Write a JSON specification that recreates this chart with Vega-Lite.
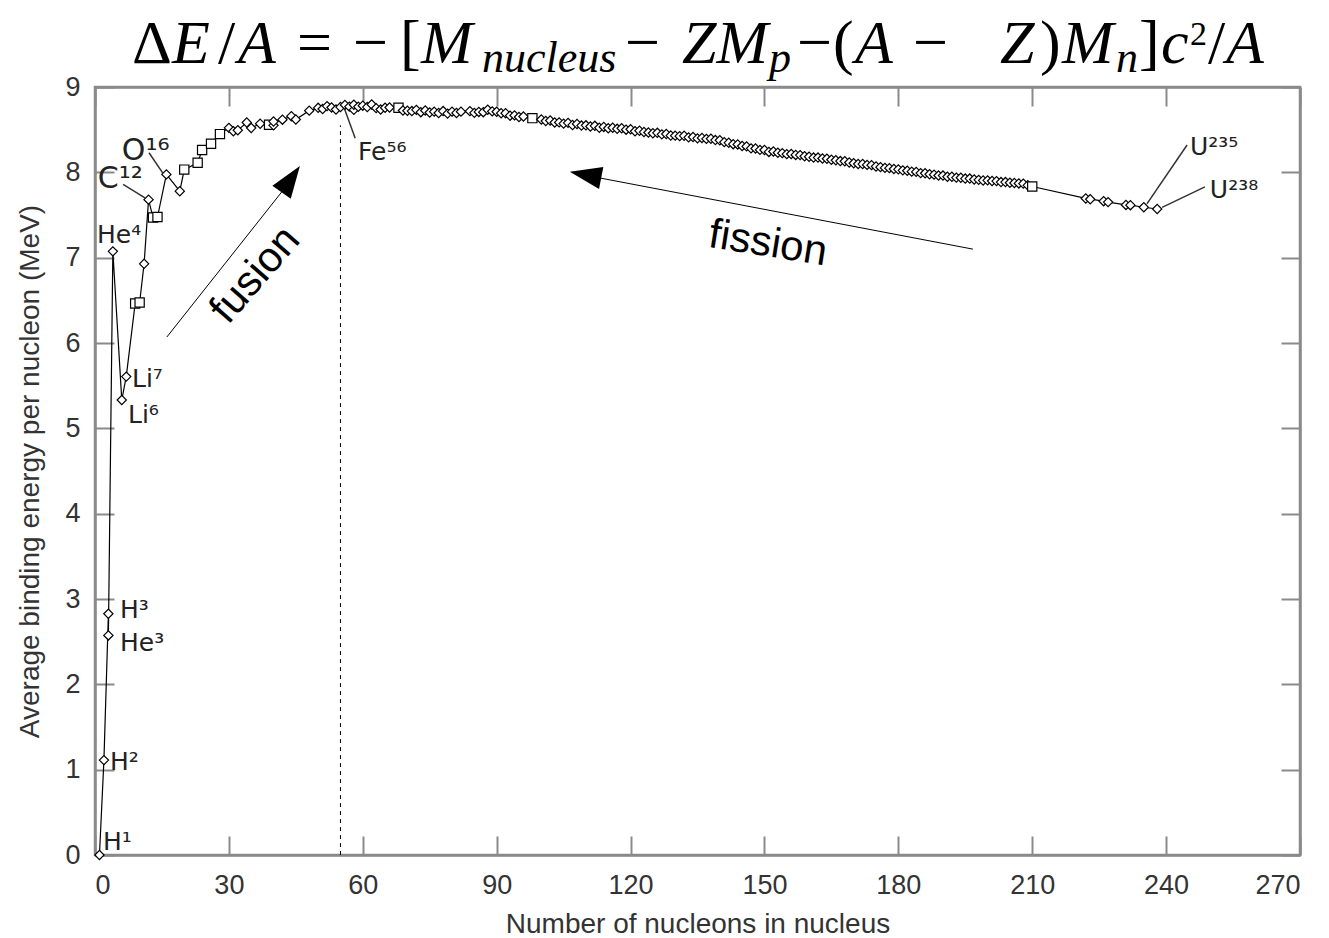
{
  "$schema": "https://vega.github.io/schema/vega-lite/v6.json",
  "width": 1205,
  "height": 768,
  "autosize": {"type": "none"},
  "padding": {"left": 95, "top": 87, "right": 29, "bottom": 83},
  "background": "white",
  "config": {
    "view": {"stroke": "#8a8a8a", "strokeWidth": 2.5},
    "axis": {
      "labelFont": "Liberation Sans", "titleFont": "Liberation Sans",
      "labelFontSize": 27, "titleFontSize": 28,
      "labelColor": "#333333", "titleColor": "#333333", "titleFontWeight": "normal",
      "grid": false, "domainColor": "#8a8a8a", "domainWidth": 2.5,
      "tickColor": "#8a8a8a", "tickWidth": 2, "tickSize": -19
    }
  },
  "datasets": {
    "points": [
      {"A":1,"BE":0,"group":"I"},{"A":2,"BE":1.112,"group":"I"},{"A":3,"BE":2.827,"group":"I"},{"A":3,"BE":2.573,"group":"I"},
      {"A":4,"BE":7.074,"group":"I"},{"A":6,"BE":5.332,"group":"I"},{"A":7,"BE":5.606,"group":"I"},{"A":9,"BE":6.463,"group":"II"},
      {"A":10,"BE":6.475,"group":"II"},{"A":11,"BE":6.928,"group":"I"},{"A":12,"BE":7.68,"group":"I"},{"A":13,"BE":7.47,"group":"II"},
      {"A":14,"BE":7.476,"group":"II"},{"A":16,"BE":7.976,"group":"I"},{"A":19,"BE":7.779,"group":"I"},{"A":20,"BE":8.032,"group":"II"},
      {"A":23,"BE":8.112,"group":"II"},{"A":24,"BE":8.261,"group":"II"},{"A":26,"BE":8.334,"group":"II"},{"A":28,"BE":8.448,"group":"II"},
      {"A":30,"BE":8.521,"group":"I"},{"A":31,"BE":8.481,"group":"I"},{"A":32,"BE":8.493,"group":"I"},{"A":34,"BE":8.584,"group":"I"},
      {"A":35,"BE":8.52,"group":"I"},{"A":37,"BE":8.57,"group":"I"},{"A":39,"BE":8.557,"group":"II"},{"A":40,"BE":8.551,"group":"I"},
      {"A":40,"BE":8.595,"group":"I"},{"A":42,"BE":8.617,"group":"I"},{"A":44,"BE":8.658,"group":"I"},{"A":45,"BE":8.619,"group":"I"},
      {"A":48,"BE":8.723,"group":"I"},{"A":50,"BE":8.756,"group":"I"},{"A":51,"BE":8.742,"group":"I"},{"A":52,"BE":8.776,"group":"I"},
      {"A":53,"BE":8.76,"group":"I"},{"A":54,"BE":8.736,"group":"I"},{"A":55,"BE":8.765,"group":"I"},{"A":56,"BE":8.79,"group":"I"},
      {"A":57,"BE":8.77,"group":"I"},{"A":58,"BE":8.732,"group":"I"},{"A":58,"BE":8.792,"group":"I"},{"A":59,"BE":8.768,"group":"I"},
      {"A":60,"BE":8.781,"group":"I"},{"A":61,"BE":8.765,"group":"I"},{"A":62,"BE":8.795,"group":"I"},{"A":63,"BE":8.752,"group":"I"},
      {"A":64,"BE":8.736,"group":"I"},{"A":65,"BE":8.757,"group":"I"},{"A":66,"BE":8.76,"group":"I"},{"A":68,"BE":8.756,"group":"II"},
      {"A":69,"BE":8.725,"group":"I"},{"A":70,"BE":8.722,"group":"I"},{"A":71,"BE":8.718,"group":"I"},{"A":72,"BE":8.732,"group":"I"},
      {"A":73,"BE":8.705,"group":"I"},{"A":74,"BE":8.725,"group":"I"},{"A":75,"BE":8.701,"group":"I"},{"A":76,"BE":8.711,"group":"I"},
      {"A":77,"BE":8.695,"group":"I"},{"A":78,"BE":8.718,"group":"I"},{"A":79,"BE":8.688,"group":"I"},{"A":80,"BE":8.711,"group":"I"},
      {"A":81,"BE":8.696,"group":"I"},{"A":82,"BE":8.711,"group":"I"},{"A":84,"BE":8.717,"group":"I"},{"A":85,"BE":8.697,"group":"I"},
      {"A":86,"BE":8.708,"group":"I"},{"A":87,"BE":8.705,"group":"I"},{"A":88,"BE":8.733,"group":"I"},{"A":89,"BE":8.714,"group":"I"},
      {"A":90,"BE":8.71,"group":"I"},{"A":91,"BE":8.693,"group":"I"},{"A":92,"BE":8.693,"group":"I"},{"A":93,"BE":8.664,"group":"I"},
      {"A":94,"BE":8.667,"group":"I"},{"A":95,"BE":8.649,"group":"I"},{"A":96,"BE":8.654,"group":"I"},{"A":98,"BE":8.635,"group":"II"},
      {"A":100,"BE":8.619,"group":"I"},{"A":101,"BE":8.601,"group":"I"},{"A":102,"BE":8.607,"group":"I"},{"A":103,"BE":8.584,"group":"I"},
      {"A":104,"BE":8.585,"group":"I"},{"A":105,"BE":8.571,"group":"I"},{"A":106,"BE":8.58,"group":"I"},{"A":107,"BE":8.554,"group":"I"},
      {"A":108,"BE":8.567,"group":"I"},{"A":109,"BE":8.548,"group":"I"},{"A":110,"BE":8.551,"group":"I"},{"A":111,"BE":8.537,"group":"I"},
      {"A":112,"BE":8.545,"group":"I"},{"A":113,"BE":8.523,"group":"I"},{"A":114,"BE":8.532,"group":"I"},{"A":115,"BE":8.517,"group":"I"},
      {"A":116,"BE":8.523,"group":"I"},{"A":117,"BE":8.51,"group":"I"},{"A":118,"BE":8.517,"group":"I"},{"A":119,"BE":8.5,"group":"I"},
      {"A":120,"BE":8.505,"group":"I"},{"A":121,"BE":8.482,"group":"I"},{"A":122,"BE":8.488,"group":"I"},{"A":123,"BE":8.472,"group":"I"},
      {"A":124,"BE":8.467,"group":"I"},{"A":125,"BE":8.458,"group":"I"},{"A":126,"BE":8.463,"group":"I"},{"A":127,"BE":8.445,"group":"I"},
      {"A":128,"BE":8.449,"group":"I"},{"A":129,"BE":8.431,"group":"I"},{"A":130,"BE":8.43,"group":"I"},{"A":131,"BE":8.424,"group":"I"},
      {"A":132,"BE":8.428,"group":"I"},{"A":133,"BE":8.41,"group":"I"},{"A":134,"BE":8.414,"group":"I"},{"A":135,"BE":8.398,"group":"I"},
      {"A":136,"BE":8.403,"group":"I"},{"A":137,"BE":8.392,"group":"I"},{"A":138,"BE":8.394,"group":"I"},{"A":139,"BE":8.378,"group":"I"},
      {"A":140,"BE":8.376,"group":"I"},{"A":141,"BE":8.354,"group":"I"},{"A":142,"BE":8.346,"group":"I"},{"A":143,"BE":8.33,"group":"I"},
      {"A":144,"BE":8.327,"group":"I"},{"A":145,"BE":8.309,"group":"I"},{"A":146,"BE":8.304,"group":"I"},{"A":147,"BE":8.281,"group":"I"},
      {"A":148,"BE":8.279,"group":"I"},{"A":149,"BE":8.263,"group":"I"},{"A":150,"BE":8.262,"group":"I"},{"A":151,"BE":8.239,"group":"I"},
      {"A":152,"BE":8.244,"group":"I"},{"A":153,"BE":8.229,"group":"I"},{"A":154,"BE":8.225,"group":"I"},{"A":155,"BE":8.213,"group":"I"},
      {"A":156,"BE":8.215,"group":"I"},{"A":157,"BE":8.204,"group":"I"},{"A":158,"BE":8.202,"group":"I"},{"A":159,"BE":8.189,"group":"I"},
      {"A":160,"BE":8.183,"group":"I"},{"A":161,"BE":8.173,"group":"I"},{"A":162,"BE":8.173,"group":"I"},{"A":163,"BE":8.162,"group":"I"},
      {"A":164,"BE":8.159,"group":"I"},{"A":165,"BE":8.147,"group":"I"},{"A":166,"BE":8.142,"group":"I"},{"A":167,"BE":8.132,"group":"I"},
      {"A":168,"BE":8.13,"group":"I"},{"A":169,"BE":8.115,"group":"I"},{"A":170,"BE":8.106,"group":"I"},{"A":171,"BE":8.098,"group":"I"},
      {"A":172,"BE":8.097,"group":"I"},{"A":173,"BE":8.087,"group":"I"},{"A":174,"BE":8.084,"group":"I"},{"A":175,"BE":8.069,"group":"I"},
      {"A":176,"BE":8.061,"group":"I"},{"A":177,"BE":8.052,"group":"I"},{"A":178,"BE":8.049,"group":"I"},{"A":179,"BE":8.039,"group":"I"},
      {"A":180,"BE":8.035,"group":"I"},{"A":181,"BE":8.023,"group":"I"},{"A":182,"BE":8.018,"group":"I"},{"A":183,"BE":8.008,"group":"I"},
      {"A":184,"BE":8.005,"group":"I"},{"A":185,"BE":7.991,"group":"I"},{"A":186,"BE":7.989,"group":"I"},{"A":187,"BE":7.978,"group":"I"},
      {"A":188,"BE":7.973,"group":"I"},{"A":189,"BE":7.963,"group":"I"},{"A":190,"BE":7.962,"group":"I"},{"A":191,"BE":7.948,"group":"I"},
      {"A":192,"BE":7.948,"group":"I"},{"A":193,"BE":7.938,"group":"I"},{"A":194,"BE":7.936,"group":"I"},{"A":195,"BE":7.927,"group":"I"},
      {"A":196,"BE":7.927,"group":"I"},{"A":197,"BE":7.916,"group":"I"},{"A":198,"BE":7.912,"group":"I"},{"A":199,"BE":7.905,"group":"I"},
      {"A":200,"BE":7.906,"group":"I"},{"A":201,"BE":7.898,"group":"I"},{"A":202,"BE":7.897,"group":"I"},{"A":203,"BE":7.886,"group":"I"},
      {"A":204,"BE":7.886,"group":"I"},{"A":205,"BE":7.878,"group":"I"},{"A":206,"BE":7.875,"group":"I"},{"A":207,"BE":7.87,"group":"I"},
      {"A":208,"BE":7.868,"group":"I"},{"A":209,"BE":7.848,"group":"I"},{"A":210,"BE":7.834,"group":"II"},{"A":222,"BE":7.694,"group":"I"},
      {"A":223,"BE":7.685,"group":"I"},{"A":226,"BE":7.662,"group":"I"},{"A":227,"BE":7.651,"group":"I"},{"A":231,"BE":7.618,"group":"I"},
      {"A":232,"BE":7.615,"group":"I"},{"A":235,"BE":7.591,"group":"I"},{"A":238,"BE":7.57,"group":"I"}
    ],
    "labels": [
      {"A":1.8,"BE":0.06,"text":"H¹"},
      {"A":3.36,"BE":0.996,"text":"H²"},
      {"A":5.6,"BE":2.78,"text":"H³"},
      {"A":5.6,"BE":2.39,"text":"He³"},
      {"A":0.45,"BE":7.172,"text":"He⁴"},
      {"A":8.29,"BE":5.484,"text":"Li⁷"},
      {"A":7.39,"BE":5.063,"text":"Li⁶"},
      {"A":58.93,"BE":8.145,"text":"Fe⁵⁶"},
      {"A":245.35,"BE":8.203,"text":"U²³⁵"},
      {"A":249.8,"BE":7.699,"text":"U²³⁸"}
    ],
    "labelsBig": [
      {"A":0.6,"BE":7.816,"text":"C¹²"},
      {"A":6.0,"BE":8.145,"text":"O¹⁶"}
    ],
    "pointers": [
      {"A":6.3,"BE":7.86,"A2":11.2,"BE2":7.7},
      {"A":12.1,"BE":8.23,"A2":15.2,"BE2":7.99},
      {"A":56.0,"BE":8.73,"A2":58.3,"BE2":8.4},
      {"A":235.7,"BE":7.63,"A2":244.7,"BE2":8.32},
      {"A":239.1,"BE":7.59,"A2":248.7,"BE2":7.83}
    ],
    "arrows": [
      {"A":16.1,"BE":6.07,"A2":43.5,"BE2":7.88},
      {"A":196.7,"BE":7.1,"A2":110.5,"BE2":7.96}
    ],
    "formula": [
      {"x":8.29,"text":"Δ","kind":"rm"},
      {"x":17.25,"text":"E","kind":"it"},
      {"x":27.56,"text":"/","kind":"rm"},
      {"x":32.04,"text":"A","kind":"it"},
      {"x":45.26,"text":"=","kind":"rm"},
      {"x":57.81,"text":"−","kind":"rm"},
      {"x":68.34,"text":"[","kind":"rm"},
      {"x":73.05,"text":"M","kind":"it"},
      {"x":86.71,"text":"nucleus","kind":"sub"},
      {"x":118.76,"text":"−","kind":"rm"},
      {"x":131.53,"text":"ZM","kind":"it"},
      {"x":151.02,"text":"p","kind":"sub"},
      {"x":157.3,"text":"−","kind":"rm"},
      {"x":165.36,"text":"(","kind":"rm"},
      {"x":170.29,"text":"A","kind":"it"},
      {"x":183.29,"text":"−","kind":"rm"},
      {"x":202.78,"text":"Z","kind":"it"},
      {"x":211.74,"text":")","kind":"rm"},
      {"x":216.67,"text":"M","kind":"it"},
      {"x":228.77,"text":"n","kind":"sub"},
      {"x":233.93,"text":"]","kind":"rm"},
      {"x":238.86,"text":"c","kind":"it"},
      {"x":245.35,"text":"2","kind":"sup"},
      {"x":249.39,"text":"/","kind":"rm"},
      {"x":253.42,"text":"A","kind":"it"}
    ]
  },
  "resolve": {"scale": {"x": "shared", "y": "shared"}, "axis": {"x": "independent", "y": "independent"}},
  "layer": [
    {
      "data": {"values": [{"A": 55, "lo": 0, "hi": 8.55}]},
      "mark": {"type": "rule", "color": "black", "strokeWidth": 1, "strokeDash": [4, 4]},
      "encoding": {
        "x": {"field": "A", "type": "quantitative", "scale": {"domain": [0, 270], "nice": false, "zero": false}, "axis": null},
        "y": {"field": "lo", "type": "quantitative", "scale": {"domain": [0, 9], "nice": false, "zero": false}, "axis": null},
        "y2": {"field": "hi"}
      }
    },
    {
      "data": {"name": "points"},
      "mark": {"type": "line", "color": "black", "strokeWidth": 1.2},
      "encoding": {
        "x": {"field": "A", "type": "quantitative", "scale": {"domain": [0, 270], "nice": false, "zero": false},
              "axis": {"orient": "bottom", "values": [0,30,60,90,120,150,180,210,240,270], "title": "Number of nucleons in nucleus", "labelPadding": 36, "titlePadding": 12}},
        "y": {"field": "BE", "type": "quantitative", "scale": {"domain": [0, 9], "nice": false, "zero": false},
              "axis": {"orient": "left", "values": [0,1,2,3,4,5,6,7,8,9], "title": "Average binding energy per nucleon (MeV)", "labelPadding": 34, "titlePadding": 20}},
        "order": [{"field": "A", "type": "quantitative"}, {"field": "BE", "type": "quantitative"}]
      }
    },
    {
      "data": {"name": "points"},
      "mark": {"type": "point", "filled": true, "fill": "white", "stroke": "black", "strokeWidth": 1.2, "size": 85, "opacity": 1},
      "encoding": {
        "x": {"field": "A", "type": "quantitative", "scale": {"domain": [0, 270], "nice": false, "zero": false},
              "axis": {"orient": "top", "values": [0,30,60,90,120,150,180,210,240,270], "labels": false, "title": null}},
        "y": {"field": "BE", "type": "quantitative", "scale": {"domain": [0, 9], "nice": false, "zero": false},
              "axis": {"orient": "right", "values": [0,1,2,3,4,5,6,7,8,9], "labels": false, "title": null}},
        "shape": {"field": "group", "type": "nominal", "scale": {"domain": ["I", "II"], "range": ["diamond", "square"]}, "legend": null}
      }
    },
    {
      "data": {"name": "pointers"},
      "mark": {"type": "rule", "color": "#333333", "strokeWidth": 1.5},
      "encoding": {
        "x": {"field": "A", "type": "quantitative", "axis": null},
        "y": {"field": "BE", "type": "quantitative", "axis": null},
        "x2": {"field": "A2"},
        "y2": {"field": "BE2"}
      }
    },
    {
      "data": {"name": "labels"},
      "mark": {"type": "text", "font": "DejaVu Sans", "fontSize": 25, "align": "left", "baseline": "alphabetic", "color": "#222222"},
      "encoding": {
        "x": {"field": "A", "type": "quantitative", "axis": null},
        "y": {"field": "BE", "type": "quantitative", "axis": null},
        "text": {"field": "text"}
      }
    },
    {
      "data": {"name": "labelsBig"},
      "mark": {"type": "text", "font": "DejaVu Sans", "fontSize": 30, "align": "left", "baseline": "alphabetic", "color": "#222222"},
      "encoding": {
        "x": {"field": "A", "type": "quantitative", "axis": null},
        "y": {"field": "BE", "type": "quantitative", "axis": null},
        "text": {"field": "text"}
      }
    },
    {
      "data": {"name": "arrows"},
      "mark": {"type": "rule", "color": "black", "strokeWidth": 1},
      "encoding": {
        "x": {"field": "A", "type": "quantitative", "axis": null},
        "y": {"field": "BE", "type": "quantitative", "axis": null},
        "x2": {"field": "A2"},
        "y2": {"field": "BE2"}
      }
    },
    {
      "data": {"values": [{"A": 43.86, "BE": 7.92}]},
      "mark": {"type": "point", "shape": "M0,-1L0.7,1L-0.7,1Z", "size": 1024, "angle": 35, "filled": true, "color": "black", "opacity": 1},
      "encoding": {
        "x": {"field": "A", "type": "quantitative", "axis": null},
        "y": {"field": "BE", "type": "quantitative", "axis": null}
      }
    },
    {
      "data": {"values": [{"A": 109.9, "BE": 7.97}]},
      "mark": {"type": "point", "shape": "M0,-1L0.7,1L-0.7,1Z", "size": 1024, "angle": 281, "filled": true, "color": "black", "opacity": 1},
      "encoding": {
        "x": {"field": "A", "type": "quantitative", "axis": null},
        "y": {"field": "BE", "type": "quantitative", "axis": null}
      }
    },
    {
      "data": {"values": [{"A": 35.85, "BE": 6.8, "text": "fusion"}]},
      "mark": {"type": "text", "font": "Liberation Sans", "fontSize": 42, "angle": 311, "align": "center", "baseline": "middle", "color": "black"},
      "encoding": {
        "x": {"field": "A", "type": "quantitative", "axis": null},
        "y": {"field": "BE", "type": "quantitative", "axis": null},
        "text": {"field": "text"}
      }
    },
    {
      "data": {"values": [{"A": 150.8, "BE": 7.17, "text": "fission"}]},
      "mark": {"type": "text", "font": "Liberation Sans", "fontSize": 42, "angle": 9, "align": "center", "baseline": "middle", "color": "black"},
      "encoding": {
        "x": {"field": "A", "type": "quantitative", "axis": null},
        "y": {"field": "BE", "type": "quantitative", "axis": null},
        "text": {"field": "text"}
      }
    },
    {
      "data": {"name": "formula"},
      "transform": [{"filter": "datum.kind === 'rm'"}],
      "mark": {"type": "text", "font": "Liberation Serif", "fontSize": 62, "align": "left", "baseline": "alphabetic", "color": "black"},
      "encoding": {
        "x": {"field": "x", "type": "quantitative", "axis": null},
        "y": {"datum": 9.281, "type": "quantitative", "axis": null},
        "text": {"field": "text"}
      }
    },
    {
      "data": {"name": "formula"},
      "transform": [{"filter": "datum.kind === 'it'"}],
      "mark": {"type": "text", "font": "Liberation Serif", "fontStyle": "italic", "fontSize": 62, "align": "left", "baseline": "alphabetic", "color": "black"},
      "encoding": {
        "x": {"field": "x", "type": "quantitative", "axis": null},
        "y": {"datum": 9.281, "type": "quantitative", "axis": null},
        "text": {"field": "text"}
      }
    },
    {
      "data": {"name": "formula"},
      "transform": [{"filter": "datum.kind === 'sub'"}],
      "mark": {"type": "text", "font": "Liberation Serif", "fontStyle": "italic", "fontSize": 44, "align": "left", "baseline": "alphabetic", "color": "black"},
      "encoding": {
        "x": {"field": "x", "type": "quantitative", "axis": null},
        "y": {"datum": 9.176, "type": "quantitative", "axis": null},
        "text": {"field": "text"}
      }
    },
    {
      "data": {"name": "formula"},
      "transform": [{"filter": "datum.kind === 'sup'"}],
      "mark": {"type": "text", "font": "Liberation Serif", "fontSize": 34, "align": "left", "baseline": "alphabetic", "color": "black"},
      "encoding": {
        "x": {"field": "x", "type": "quantitative", "axis": null},
        "y": {"datum": 9.492, "type": "quantitative", "axis": null},
        "text": {"field": "text"}
      }
    }
  ]
}
